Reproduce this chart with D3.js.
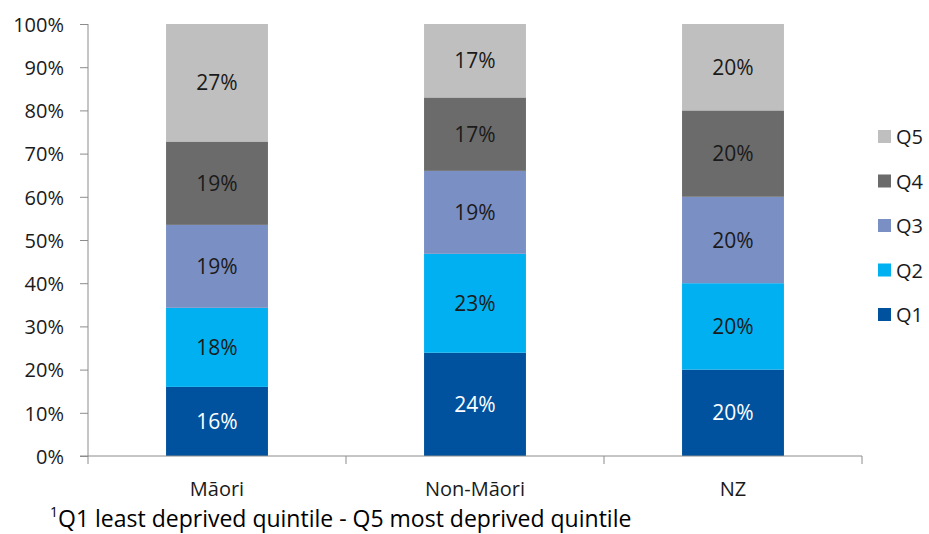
<!DOCTYPE html>
<html lang="en">
<head>
    <meta charset="UTF-8">
    <title>Deprivation quintile by ethnicity</title>
    <script src="https://cdn.jsdelivr.net/npm/d3@7"></script>
    <style>
        body { margin: 0; background: #fff; }
        svg { display: block; font-family: "Open Sans", sans-serif; }
    </style>
</head>
<body>
<svg width="929" height="534"></svg>
<script>
    // data
    var groups = ["Māori", "Non-Māori", "NZ"];
    var quintiles = ["Q1", "Q2", "Q3", "Q4", "Q5"];
    var q1 = [16.0, 23.9, 20];
    var q2 = [18.3, 22.9, 20];
    var q3 = [19.2, 19.2, 20];
    var q4 = [19.3, 17.0, 20];
    var q5 = [27.2, 17.0, 20];
    var yTicks = [0, 10, 20, 30, 40, 50, 60, 70, 80, 90, 100];
    var footnote = "Q1 least deprived quintile - Q5 most deprived quintile";

    var colors = {Q1: "#00529F", Q2: "#00B0F0", Q3: "#7A8FC4", Q4: "#6B6B6B", Q5: "#BFBFBF"};

    var svg = d3.select("svg");
    var margin = {top: 24, left: 88, right: 67, bottom: 78};
    var width = +svg.attr("width"), height = +svg.attr("height");

    var rows = groups.map(function (g, i) {
        return {group: g, Q1: q1[i], Q2: q2[i], Q3: q3[i], Q4: q4[i], Q5: q5[i]};
    });
    var stacked = d3.stack().keys(quintiles)(rows);

    var x = d3.scaleBand()
        .domain(groups)
        .range([margin.left, width - margin.right])
        .paddingInner(0.605)
        .paddingOuter(0.3025);
    var xOuter = d3.scaleBand().domain(groups).range([margin.left, width - margin.right]);

    var y = d3.scaleLinear()
        .domain([0, 100])
        .range([height - margin.bottom, margin.top]);

    // bars
    var layer = svg.append("g").selectAll("g")
        .data(stacked)
        .enter().append("g")
        .attr("fill", function (d) { return colors[d.key]; });

    layer.selectAll("rect")
        .data(function (d) { return d; })
        .enter().append("rect")
        .attr("x", function (d) { return x(d.data.group); })
        .attr("y", function (d) { return y(d[1]); })
        .attr("width", x.bandwidth())
        .attr("height", function (d) { return y(d[0]) - y(d[1]); });

    // value labels
    stacked.forEach(function (s) {
        svg.append("g").selectAll("text")
            .data(s)
            .enter().append("text")
            .attr("x", function (d) { return x(d.data.group) + x.bandwidth() / 2; })
            .attr("y", function (d) { return (y(d[0]) + y(d[1])) / 2; })
            .attr("dy", "0.36em")
            .attr("text-anchor", "middle")
            .style("font-size", "21px")
            .attr("fill", s.key === "Q1" ? "#ffffff" : "#1a1a1a")
            .text(function (d) { return Math.round(d[1] - d[0]) + "%"; });
    });

    // y axis
    var yAxis = svg.append("g")
        .attr("transform", "translate(" + margin.left + ",0)")
        .call(d3.axisLeft(y).tickValues(yTicks).tickSize(8).tickPadding(16)
            .tickFormat(function (d) { return d + "%"; }));
    yAxis.selectAll("line, path").attr("stroke", "#8c8c8c");
    yAxis.select(".domain").attr("d", "M0," + y(100) + "V" + y(0));
    yAxis.selectAll("text").style("font-size", "20px").attr("fill", "#1a1a1a")
        .style("font-family", "'Open Sans', sans-serif").attr("dy", "0.36em");

    // x axis, ticks at category boundaries
    var base = y(0);
    var xAxis = svg.append("g");
    xAxis.append("line")
        .attr("x1", margin.left - 8).attr("x2", width - margin.right)
        .attr("y1", base).attr("y2", base)
        .attr("stroke", "#8c8c8c");
    var bounds = groups.map(function (g) { return xOuter(g); }).concat([width - margin.right]);
    xAxis.selectAll(".xt")
        .data(bounds)
        .enter().append("line")
        .attr("x1", function (d) { return d; }).attr("x2", function (d) { return d; })
        .attr("y1", base).attr("y2", base + 8)
        .attr("stroke", "#8c8c8c");
    xAxis.selectAll("text")
        .data(groups)
        .enter().append("text")
        .attr("x", function (d) { return x(d) + x.bandwidth() / 2; })
        .attr("y", 496)
        .attr("text-anchor", "middle")
        .style("font-size", "20px")
        .attr("fill", "#1a1a1a")
        .text(function (d) { return d; });

    // legend
    var legend = svg.append("g").attr("transform", "translate(878,0)");
    var legY = d3.scalePoint().domain(quintiles.slice().reverse()).range([137, 315]);
    var item = legend.selectAll("g")
        .data(quintiles.slice().reverse())
        .enter().append("g")
        .attr("transform", function (d) { return "translate(0," + legY(d) + ")"; });
    item.append("rect")
        .attr("x", 0).attr("y", -7)
        .attr("width", 13).attr("height", 13)
        .attr("fill", function (d) { return colors[d]; });
    item.append("text")
        .attr("x", 18).attr("dy", "0.36em")
        .style("font-size", "20px")
        .attr("fill", "#1a1a1a")
        .text(function (d) { return d; });

    // footnote
    var fn = svg.append("text")
        .attr("x", 50).attr("y", 527)
        .style("font-size", "23px")
        .attr("fill", "#000");
    fn.append("tspan").attr("dy", "-10").style("font-size", "14px").text("1");
    fn.append("tspan").attr("dy", "10").text(footnote);
</script>
</body>
</html>
